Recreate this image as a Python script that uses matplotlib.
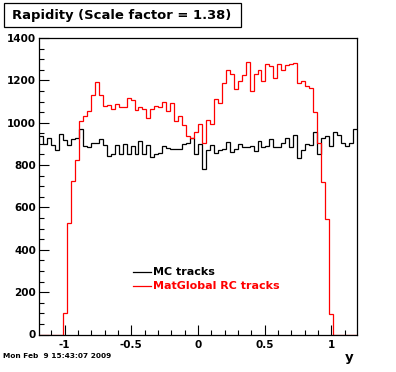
"""
Rapidity comparison: MC tracks vs MatGlobal RC tracks (ROOT-style canvas).
"""

import numpy as np
import matplotlib
matplotlib.use("Agg")
import matplotlib.pyplot as plt
from matplotlib.patches import Rectangle
from matplotlib.lines import Line2D
from matplotlib.ticker import MultipleLocator

plt.rcParams['font.family'] = ['DejaVu Sans']
plt.rcParams['font.weight'] = 'bold'

# histogram range / bins
y_min, y_max = -1.19, 1.19
n_bins = 80

mc_tracks = [939, 900, 930, 894, 870, 949, 920, 897, 925, 930,
             968, 889, 883, 906, 906, 925, 894, 845, 853, 897,
             853, 900, 853, 889, 853, 915, 853, 897, 840, 854,
             859, 892, 881, 875, 877, 877, 900, 906, 930, 854,
             900, 783, 873, 897, 856, 873, 878, 911, 864, 878,
             901, 883, 887, 892, 868, 916, 886, 892, 925, 883,
             887, 906, 930, 883, 944, 835, 873, 901, 897, 958,
             854, 930, 935, 892, 958, 944, 906, 892, 906, 972]

rc_tracks = [0, 0, 0, 0, 0, 0, 102, 526, 723, 826,
             1007, 1032, 1054, 1133, 1193, 1131, 1077, 1086, 1064, 1087,
             1076, 1076, 1119, 1105, 1062, 1072, 1063, 1024, 1064, 1077,
             1076, 1100, 1057, 1095, 1010, 1034, 987, 939, 930, 958,
             995, 906, 1015, 995, 1110, 1092, 1188, 1251, 1228, 1157,
             1199, 1223, 1289, 1152, 1228, 1247, 1199, 1275, 1270, 1209,
             1275, 1251, 1272, 1277, 1280, 1188, 1195, 1174, 1166, 1051,
             906, 720, 545, 96, 0, 0, 0, 0, 0, 0]

x_ticks = [-1, -0.5, 0, 0.5, 1]
x_tick_labels = ["-1", "-0.5", "0", "0.5", "1"]
y_ticks = [0, 200, 400, 600, 800, 1000, 1200, 1400]

title = "Rapidity (Scale factor = 1.38)"
legend_labels = ["MC tracks", "MatGlobal RC tracks"]
date_stamp = "Mon Feb  9 15:43:07 2009"

W, H = 396, 372
fig = plt.figure(figsize=(W / 100, H / 100), dpi=100)
ax = fig.add_axes([39.3 / W, 37.5 / H, 317.4 / W, 296.5 / H])

edges = np.linspace(y_min, y_max, n_bins + 1)
ax.stairs(mc_tracks, edges, color="black", linewidth=0.9, baseline=None)
ax.stairs(rc_tracks, edges, color="#ff0000", linewidth=0.9, baseline=0)

ax.set_xlim(y_min, y_max)
ax.set_ylim(0, 1400)

ax.set_xticks(x_ticks)
ax.set_xticklabels(x_tick_labels)
ax.set_yticks(y_ticks)
ax.xaxis.set_minor_locator(MultipleLocator(0.1))
ax.yaxis.set_minor_locator(MultipleLocator(50))
ax.tick_params(which="both", direction="in", top=False, right=False,
               labelsize=7.5, width=0.8)
ax.tick_params(axis="x", which="major", length=7.2, pad=4.2)
ax.tick_params(axis="x", which="minor", length=3.6)
ax.tick_params(axis="y", which="major", length=7.2, pad=2.4)
ax.tick_params(axis="y", which="minor", length=3.8)
for lab in ax.get_xticklabels() + ax.get_yticklabels():
    lab.set_fontweight("bold")
for sp in ax.spines.values():
    sp.set_linewidth(0.9)

# title box
fig.patches.append(Rectangle((4 / W, 1 - 27 / H), 237 / W, 24 / H,
                             transform=fig.transFigure, facecolor="white",
                             edgecolor="black", linewidth=0.9))
fig.text(12.5 / W, 1 - 15.5 / H, title, fontsize=9.45, fontweight="bold",
         ha="left", va="center")

# legend
leg_y = [272.3, 285.7]
leg_colors = ["black", "#ff0000"]
for label, yy, col in zip(legend_labels, leg_y, leg_colors):
    fig.lines.append(Line2D([133.3 / W, 150.7 / W], [1 - yy / H] * 2,
                            transform=fig.transFigure, color=col, linewidth=0.9))
    fig.text(153.3 / W, 1 - yy / H, label, fontsize=8.0,
             fontweight="bold", color=col, ha="left", va="center")

# axis title and date
fig.text(349.5 / W, 1 - 357 / H, "y", fontsize=9.5, fontweight="bold",
         ha="center", va="center")
fig.text(3 / W, 1 - 356 / H, date_stamp, fontsize=5.3, fontweight="bold",
         ha="left", va="center")

fig.savefig("out.png", dpi=100, facecolor="white")
